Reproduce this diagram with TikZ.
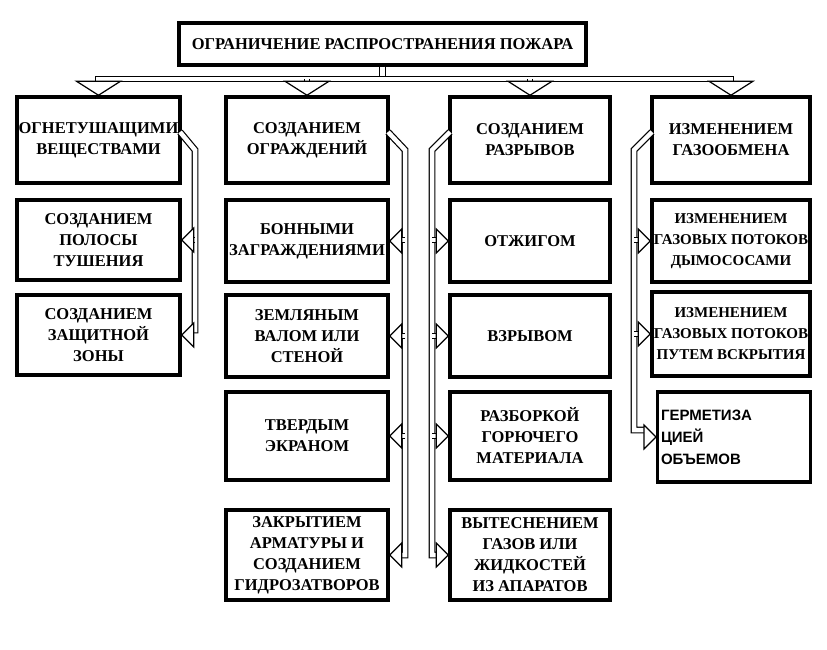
\documentclass[tikz,border=0pt]{standalone}
\usepackage{fontspec}
\setmainfont{Liberation Serif}
\newfontfamily\sansf{Liberation Sans}
\begin{document}
\begin{tikzpicture}[x=1pt,y=-1pt,
 box/.style={draw,line width=3.5pt,align=center,inner sep=1pt,font=\bfseries\fontsize{16.5}{21}\selectfont},
 dbl/.style={draw,line width=1.2pt,double=white,double distance=4.5pt},
 arrL/.pic={\draw[fill=white,line width=1.2pt] (0,0)--(12,-12)--(12,12)--cycle;},
 arrR/.pic={\draw[fill=white,line width=1.2pt] (0,0)--(-12,-12)--(-12,12)--cycle;},
 arrD/.pic={\draw[fill=white,line width=1.2pt] (0,0)--(-22,-14)--(22,-14)--cycle;}]
\useasboundingbox (0,0) rectangle (827,650);
% boxes
\node[box,minimum width=407,minimum height=42] (top) at (382.5,44) {ОГРАНИЧЕНИЕ РАСПРОСТРАНЕНИЯ ПОЖАРА};
\def\bx#1#2#3#4#5#6{\node[box,minimum width=#4-#2,minimum height=#5-#3] (#1) at ({(#2+#4)/2},{(#3+#5)/2}) {#6};}
\bx{a1}{17}{97}{180}{183}{ОГНЕТУШАЩИМИ\\ВЕЩЕСТВАМИ}
\bx{a2}{17}{200}{180}{280}{СОЗДАНИЕМ\\ПОЛОСЫ\\ТУШЕНИЯ}
\bx{a3}{17}{295}{180}{375}{СОЗДАНИЕМ\\ЗАЩИТНОЙ\\ЗОНЫ}
\bx{b1}{226}{97}{388}{183}{СОЗДАНИЕМ\\ОГРАЖДЕНИЙ}
\bx{b2}{226}{200}{388}{282}{БОННЫМИ\\ЗАГРАЖДЕНИЯМИ}
\bx{b3}{226}{295}{388}{377}{ЗЕМЛЯНЫМ\\ВАЛОМ ИЛИ\\СТЕНОЙ}
\bx{b4}{226}{392}{388}{480}{ТВЕРДЫМ\\ЭКРАНОМ}
\bx{b5}{226}{510}{388}{600}{ЗАКРЫТИЕМ\\АРМАТУРЫ И\\СОЗДАНИЕМ\\ГИДРОЗАТВОРОВ}
\bx{c1}{450}{97}{610}{183}{СОЗДАНИЕМ\\РАЗРЫВОВ}
\bx{c2}{450}{200}{610}{282}{ОТЖИГОМ}
\bx{c3}{450}{295}{610}{377}{ВЗРЫВОМ}
\bx{c4}{450}{392}{610}{480}{РАЗБОРКОЙ\\ГОРЮЧЕГО\\МАТЕРИАЛА}
\bx{c5}{450}{510}{610}{600}{ВЫТЕСНЕНИЕМ\\ГАЗОВ ИЛИ\\ЖИДКОСТЕЙ\\ИЗ АПАРАТОВ}
\bx{d1}{652}{97}{810}{183}{ИЗМЕНЕНИЕМ\\ГАЗООБМЕНА}
\begin{scope}[box/.append style={font=\bfseries\fontsize{15}{21}\selectfont}]
\bx{d2}{652}{200}{810}{282}{ИЗМЕНЕНИЕМ\\ГАЗОВЫХ ПОТОКОВ\\ДЫМОСОСАМИ}
\bx{d3}{652}{292}{810}{376}{ИЗМЕНЕНИЕМ\\ГАЗОВЫХ ПОТОКОВ\\ПУТЕМ ВСКРЫТИЯ}
\end{scope}
\node[draw,line width=3.5pt,minimum width=152,minimum height=90,align=left,text width=146,
 font=\sansf\bfseries\fontsize{15}{22}\selectfont] (d4) at (734,437) {ГЕРМЕТИЗА\\ЦИЕЙ\\ОБЪЕМОВ};
% bus
\coordinate (bus) at (top.south |- 0,79);
\draw[dbl] (top.south) -- (bus);
\draw[dbl] (a1.north |- 0,85) |- (bus) -| (d1.north |- 0,85);
\draw[dbl] (b1.north |- 0,79) -- (b1.north |- 0,85);
\draw[dbl] (c1.north |- 0,79) -- (c1.north |- 0,85);
\foreach \n in {a1,b1,c1,d1} \pic at (\n.north) {arrD};
% side branches
\draw[dbl] (180,132) -- (195,150) -- (195,330) -- (191,330);
\draw[dbl] (195,240) -- (191,240);
\pic at (a2.east) {arrL}; \pic at (a3.east) {arrL};
\draw[dbl] (388,132) -- (405,150) -- (405,555) -- (399,555);
\foreach \y in {240,336,436} \draw[dbl] (405,\y) -- (399,\y);
\foreach \n in {b2,b3,b4,b5} \pic at (\n.east) {arrL};
\draw[dbl] (450,132) -- (432,150) -- (432,555) -- (439,555);
\foreach \y in {240,336,436} \draw[dbl] (432,\y) -- (439,\y);
\foreach \n in {c2,c3,c4,c5} \pic at (\n.west) {arrR};
\draw[dbl] (652,132) -- (634,150) -- (634,430) -- (646,430);
\foreach \y in {240,334} \draw[dbl] (634,\y) -- (641,\y);
\pic at (d2.west) {arrR}; \pic at (d3.west) {arrR}; \pic at (d4.west) {arrR};
\end{tikzpicture}
\end{document}
